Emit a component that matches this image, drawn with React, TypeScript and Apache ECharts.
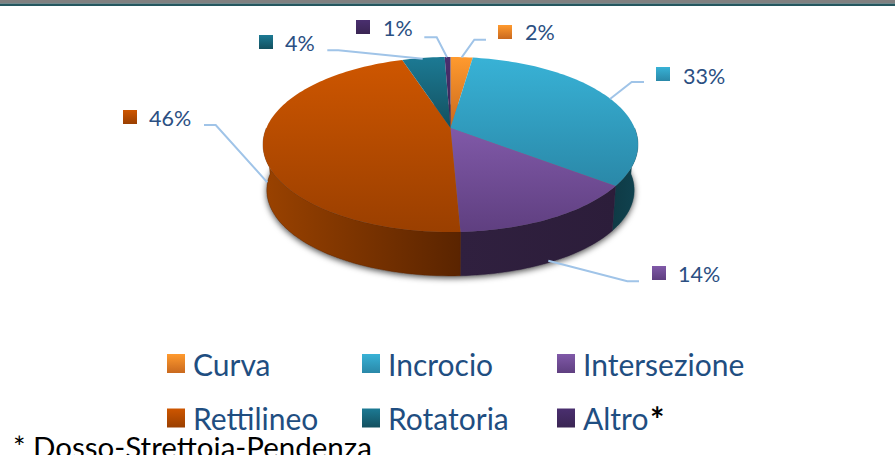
import React, { useEffect, useRef } from "react";
import * as echarts from "echarts";

const categories = ["Curva", "Incrocio", "Intersezione", "Rettilineo", "Rotatoria", "Altro"];
const shares = [2.3, 33.1, 13.9, 45.7, 4.4, 0.6];

const topColors = [
  ["#FF9A2E", "#C9691E"],
  ["#38B2D6", "#2A88A8"],
  ["#8059A8", "#5F3F80"],
  ["#CE5600", "#9A3F00"],
  ["#1C7A94", "#13505F"],
  ["#4A2F6F", "#3A2553"],
];
const sideColors = [
  ["#8A4A10", "#8A4A10"],
  ["#0F3A45", "#104350"],
  ["#30203F", "#2C1D3A"],
  ["#9A4200", "#5A2400"],
  ["#0E3C48", "#0E3C48"],
  ["#2A1B40", "#2A1B40"],
];

const legendLeft = [167, 362, 557, 167, 362, 557];
const legendTop = [348.5, 348.5, 348.5, 403, 403, 403];
const swatches = [[498, 25], [656, 67], [652, 266], [123, 110], [259, 35], [356, 20]];
const labelAnchors = [[525, 32], [683, 76], [678, 274], [149, 118], [285, 43], [383, 28]];
const leaders = [
  [[461.7, 57.3], [474.3, 39.7], [486, 39.7]],
  [[610, 99], [631.7, 82], [644, 82]],
  [[548.3, 260.7], [627.3, 281.3], [639, 281.3]],
  [[267.3, 182.3], [215.7, 125], [204, 125]],
  [[422.7, 58.7], [338.3, 50.3], [327.3, 50.3]],
  [[447, 57.3], [436.7, 37.3], [424.3, 37.3]],
];

const CX = 450.5;
const CY = 128;
const K = 0.1886;
const A = 84.4;
const B = 184.1;
const DROP = 46;
const BASE_SCALE = 0.98;
const FONT = "Lato";
const LABEL_COLOR = "#2B4F82";
const LEGEND_COLOR = "#1F4E81";

const total = shares.reduce((s, v) => s + v, 0);
const starts = shares.map((_, i) => shares.slice(0, i).reduce((s, v) => s + v, 0));

function project(deg: number, base = false): [number, number] {
  const t = (deg * Math.PI) / 180;
  const u = Math.sin(t);
  const v = Math.cos(t);
  const den = 1 + K * v;
  const s = base ? BASE_SCALE : 1;
  return [CX + (s * B * u) / den, CY + (base ? DROP : 0) - (s * A * v) / den];
}

function arcPoints(a: number, b: number, base = false) {
  const pts: [number, number][] = [];
  const n = Math.max(2, Math.ceil((b - a) / 1.5));
  for (let i = 0; i <= n; i++) pts.push(project(a + ((b - a) * i) / n, base));
  return pts;
}

function vGrad(c: string[]) {
  return new echarts.graphic.LinearGradient(0, 0, 0, 1, [
    { offset: 0, color: c[0] },
    { offset: 1, color: c[1] },
  ]);
}
function hGrad(c: string[]) {
  return new echarts.graphic.LinearGradient(0, 0, 1, 0, [
    { offset: 0, color: c[0] },
    { offset: 1, color: c[1] },
  ]);
}

function makeRender(i: number) {
  return (_params: any, api: any) => {
    const value = api.value(0);
    const a = (starts[i] / total) * 360;
    const b = a + (value / total) * 360;
    const children: any[] = [];
    const sa = Math.max(a, 90);
    const sb = Math.min(b, 270);
    if (sb > sa) {
      const fill = hGrad(sideColors[i]);
      children.push({
        type: "polygon",
        z2: 1,
        shape: { points: [...arcPoints(sa, sb), ...arcPoints(sa, sb, true).reverse()] },
        style: { fill, stroke: sideColors[i][1], lineWidth: 0.4 },
      });
    }
    children.push({
      type: "polygon",
      z2: 2,
      shape: { points: [[CX, CY], ...arcPoints(a, b)] },
      style: { fill: vGrad(topColors[i]) },
    });
    return { type: "group", children };
  };
}

function buildOption() {
  const graphic: any[] = [
    { type: "rect", z: 1, shape: { x: 0, y: 0, width: 895, height: 3.4 }, style: { fill: "#808080" } },
    { type: "rect", z: 1, shape: { x: 0, y: 3.4, width: 895, height: 2.6 }, style: { fill: "#25575F" } },
    {
      type: "polygon",
      z: 1,
      shape: { points: arcPoints(0, 360, true) },
      style: { fill: "#777", shadowBlur: 6, shadowColor: "rgba(0,0,0,0.7)", shadowOffsetY: 2 },
    },
    {
      type: "text",
      z: 5,
      x: 13,
      y: 431,
      style: { text: "* Dosso-Strettoia-Pendenza", font: `29.5px ${FONT}`, fill: "#000" },
    },
    {
      type: "text",
      z: 5,
      x: 650,
      y: 401,
      style: { text: "*", font: `bold 34px ${FONT}`, fill: "#000" },
    },
  ];
  categories.forEach((_, i) => {
    graphic.push({
      type: "polyline",
      z: 4,
      shape: { points: leaders[i] },
      style: { stroke: "#A0C4E8", lineWidth: 2, fill: "none" },
    });
    graphic.push({
      type: "rect",
      z: 4,
      shape: { x: swatches[i][0], y: swatches[i][1], width: 14, height: 14 },
      style: { fill: vGrad(topColors[i]) },
    });
    graphic.push({
      type: "text",
      z: 4,
      x: labelAnchors[i][0],
      y: labelAnchors[i][1],
      style: {
        text: `${Math.round(shares[i])}%`,
        font: `21.5px ${FONT}`,
        fill: LABEL_COLOR,
        verticalAlign: "middle",
      },
    });
  });

  return {
    animation: false,
    backgroundColor: "#fff",
    legend: categories.map((c, i) => ({
      data: [{ name: c, icon: "rect", itemStyle: { color: vGrad(topColors[i]) } }],
      left: legendLeft[i],
      top: legendTop[i],
      padding: 0,
      itemWidth: 18,
      itemHeight: 19,
      selectedMode: false,
      textStyle: { fontFamily: FONT, fontSize: 30, color: LEGEND_COLOR, padding: [0, 0, 2, 3] },
    })),
    graphic,
    series: categories.map((c, i) => ({
      type: "custom",
      name: c,
      coordinateSystem: "none",
      silent: true,
      itemStyle: { color: topColors[i][0] },
      data: [[shares[i]]],
      renderItem: makeRender(i),
    })),
  };
}

export default function App() {
  const ref = useRef<HTMLDivElement>(null);
  useEffect(() => {
    document.body.style.margin = "0";
    const chart = echarts.init(ref.current!, undefined, { renderer: "svg" });
    chart.setOption(buildOption() as any);
    return () => chart.dispose();
  }, []);
  return <div ref={ref} style={{ width: 895, height: 455, overflow: "hidden" }} />;
}
